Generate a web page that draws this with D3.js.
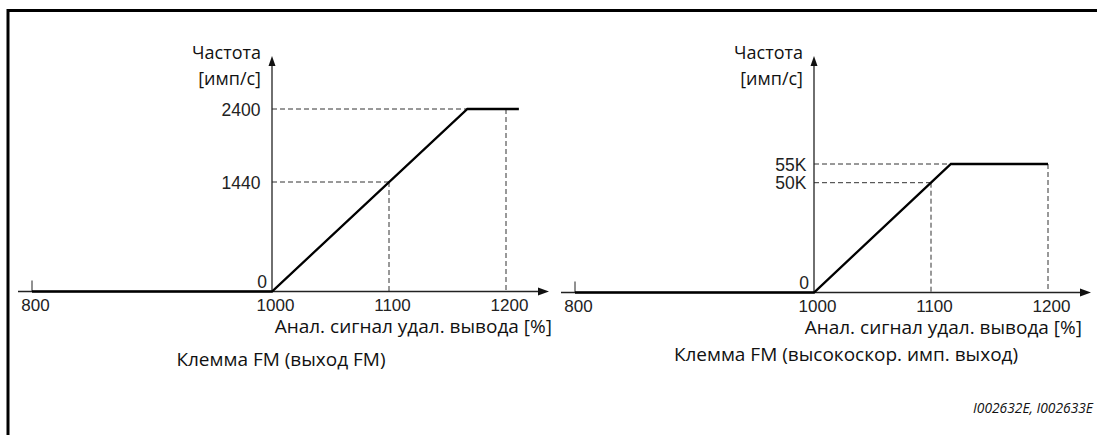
<!DOCTYPE html>
<html>
<head>
<meta charset="utf-8">
<script src="https://cdn.jsdelivr.net/npm/d3@7"></script>
<style>
  html, body { margin: 0; padding: 0; background: #fff; }
  svg { display: block; }
</style>
</head>
<body>
<svg id="chart" width="1097" height="435"></svg>
<script>
// ---------------- DATA ----------------
const xTickValues = [800, 1000, 1100, 1200];
const xTickLabels = ["800", "1000", "1100", "1200"];

const leftYTickValues = [0, 1440, 2400];
const leftYTickLabels = ["0", "1440", "2400"];
const leftLineX = [800, 1000, 1167, 1211];
const leftLineY = [0, 0, 2400, 2400];
const leftGuideX = [1100, 1200];
const leftGuideY = [1440, 2400];

const rightYTickValues = [0, 50000, 55000];
const rightYTickLabels = ["0", "50K", "55K"];
const rightLineX = [800, 1000, 1100, 1117, 1200];
const rightLineY = [0, 0, 50000, 55000, 55000];
const rightGuideX = [1100, 1200];
const rightGuideY = [50000, 55000];

const yTitleLines = ["Частота", "[имп/с]"];
const xTitle = "Анал. сигнал удал. вывода [%]";
const subtitles = ["Клемма FM (выход FM)", "Клемма FM (высокоскор. имп. выход)"];
const refCode = "I002632E, I002633E";

// ---------------- LAYOUT ----------------
const svg = d3.select("#chart");
const TEXT_FONT = "'Open Sans', 'Noto Sans', sans-serif";
const NUM_FONT = "'Liberation Sans', Arial, sans-serif";

// frame (open to the right and bottom)
svg.append("path")
  .attr("d", "M8,435 V10.5 H1097")
  .attr("fill", "none").attr("stroke", "#000").attr("stroke-width", 3);

const panels = [
  {
    x: d3.scaleLinear().domain([800, 1000, 1200]).range([32, 272, 506]),
    y: d3.scaleLinear().domain([0, 2400]).range([291.5, 109]),
    yTicks: leftYTickValues, yLabels: leftYTickLabels,
    lineX: leftLineX, lineY: leftLineY, guideX: leftGuideX, guideY: leftGuideY,
    subtitle: subtitles[0], yLabelGap: 11.5, subDx: 9, subY: 366, titleDx: 46
  },
  {
    x: d3.scaleLinear().domain([800, 1000, 1200]).range([575, 814, 1048]),
    y: d3.scaleLinear().domain([0, 50000, 55000]).range([292.5, 182.7, 164]),
    yTicks: rightYTickValues, yLabels: rightYTickLabels,
    lineX: rightLineX, lineY: rightLineY, guideX: rightGuideX, guideY: rightGuideY,
    subtitle: subtitles[1], yLabelGap: 7.5, subDx: 32, subY: 361, titleDx: 34
  }
];

panels.forEach(p => {
  const g = svg.append("g");
  const x = p.x, y = p.y;
  const ax = x(1000), y0 = y(0);
  const xStart = x(800) - 14, xEnd = x(1200) + 43;
  const yTop = 56;

  // dashed guides
  const dash = g.append("g").attr("stroke", "#333").attr("stroke-width", 1)
    .attr("stroke-dasharray", "5,3").attr("fill", "none");
  p.guideX.forEach((gx, i) => {
    const gy = p.guideY[i];
    dash.append("line").attr("x1", ax).attr("x2", x(gx)).attr("y1", y(gy)).attr("y2", y(gy));
    dash.append("line").attr("x1", x(gx)).attr("x2", x(gx)).attr("y1", y(gy)).attr("y2", y0);
  });

  // axes
  g.append("line").attr("x1", xStart).attr("x2", xEnd - 8).attr("y1", y0).attr("y2", y0)
    .attr("stroke", "#222").attr("stroke-width", 1.3);
  g.append("path").attr("d", `M${xEnd},${y0} L${xEnd - 11},${y0 - 4} L${xEnd - 11},${y0 + 4} Z`)
    .attr("fill", "#111");
  g.append("line").attr("x1", ax).attr("x2", ax).attr("y1", y0).attr("y2", yTop + 6)
    .attr("stroke", "#222").attr("stroke-width", 1.3);
  g.append("path").attr("d", `M${ax},${yTop} L${ax - 3.5},${yTop + 10} L${ax + 3.5},${yTop + 10} Z`)
    .attr("fill", "#111");
  // 800 tick mark
  g.append("line").attr("x1", x(800)).attr("x2", x(800)).attr("y1", y0 - 11).attr("y2", y0)
    .attr("stroke", "#222").attr("stroke-width", 1);

  // data line
  const line = d3.line().x(d => x(d[0])).y(d => y(d[1]));
  g.append("path")
    .datum(p.lineX.map((v, i) => [v, p.lineY[i]]))
    .attr("d", line)
    .attr("fill", "none").attr("stroke", "#000").attr("stroke-width", 2.3)
    .attr("stroke-linejoin", "miter");

  // x tick labels via d3 axis
  const xAxis = d3.axisBottom(x).tickValues(xTickValues)
    .tickFormat((d, i) => xTickLabels[i]).tickSize(0).tickPadding(0);
  const xa = g.append("g").attr("transform", `translate(0,${y0})`).call(xAxis);
  xa.select(".domain").remove();
  xa.selectAll("text")
    .attr("font-family", NUM_FONT).attr("font-size", 17).attr("fill", "#222")
    .attr("dy", null).attr("y", 19).attr("dx", 3);

  // y tick labels
  p.yTicks.forEach((v, i) => {
    const t = g.append("text")
      .attr("text-anchor", "end")
      .attr("font-family", NUM_FONT).attr("font-size", 17.5).attr("fill", "#222")
      .text(p.yLabels[i]);
    if (v === 0) t.attr("x", ax - 5).attr("y", y0 - 3.5);
    else t.attr("x", ax - p.yLabelGap).attr("y", y(v) + 6.5);
  });

  // y title
  yTitleLines.forEach((t, i) => {
    g.append("text").attr("x", ax - 11).attr("y", 59 + i * 26)
      .attr("text-anchor", "end")
      .attr("font-family", TEXT_FONT).attr("font-size", 18).attr("fill", "#111")
      .text(t);
  });

  // x title
  g.append("text").attr("x", x(1200) + p.titleDx).attr("y", y0 + 41)
    .attr("text-anchor", "end")
    .attr("font-family", TEXT_FONT).attr("font-size", 19).attr("fill", "#111")
    .text(xTitle);

  // subtitle
  g.append("text").attr("x", ax + p.subDx).attr("y", p.subY)
    .attr("text-anchor", "middle")
    .attr("font-family", TEXT_FONT).attr("font-size", 19).attr("fill", "#111")
    .text(p.subtitle);
});

// reference code
svg.append("text").attr("x", 1093).attr("y", 413)
  .attr("text-anchor", "end")
  .attr("font-family", TEXT_FONT).attr("font-style", "italic")
  .attr("font-size", 13.8).attr("fill", "#111")
  .text(refCode);
</script>
</body>
</html>
